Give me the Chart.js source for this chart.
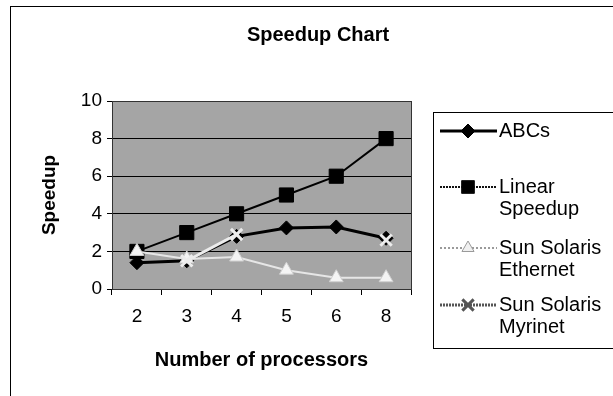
<!DOCTYPE html>
<html>
<head>
<meta charset="utf-8">
<script src="https://cdn.jsdelivr.net/npm/chart.js@4"></script>
<style>
  html, body { margin: 0; padding: 0; background: #fff; }
  #wrap { position: relative; width: 613px; height: 396px; overflow: hidden; }
  #chart { position: absolute; left: 0; top: 0; }
  #frame { position: absolute; left: 10px; top: 6px; width: 700px; height: 500px; border: 1px solid #000; }
  #title { position: absolute; left: 0; top: 23px; width: 636px; text-align: center;
           font: bold 20px "Liberation Sans", Arial, sans-serif; color: #000; }
</style>
</head>
<body>
<div id="wrap">
  <canvas id="chart" width="613" height="396"></canvas>
  <div id="frame"></div>
  <div id="title">Speedup Chart</div>
</div>
<script>
// values
const procs = ['2', '3', '4', '5', '6', '8'];
const abcs = [1.4, 1.5, 2.8, 3.25, 3.3, 2.7];
const linear = [2, 3, 4, 5, 6, 8];
const ethernet = [2.0, 1.6, 1.7, 1.0, 0.6, 0.6];
const myrinet = [null, 1.5, 2.9, null, null, 2.6];
const yTicks = [0, 2, 4, 6, 8, 10];
const names = [['ABCs'], ['Linear', 'Speedup'], ['Sun Solaris', 'Ethernet'], ['Sun Solaris', 'Myrinet']];

const FONT = '"Liberation Sans", Arial, sans-serif';

// grey plot area + frame
const plotBg = {
  id: 'plotBg',
  beforeDraw(chart) {
    const { ctx, chartArea: a } = chart;
    ctx.save();
    ctx.fillStyle = '#a5a5a5';
    ctx.fillRect(a.left, a.top, a.right - a.left, a.bottom - a.top);
    ctx.restore();
  },
  afterDatasetsDraw(chart) {
    const { ctx, chartArea: a } = chart;
    ctx.save();
    ctx.strokeStyle = '#333';
    ctx.lineWidth = 1;
    ctx.strokeRect(Math.round(a.left) + 0.5, Math.round(a.top) + 0.5,
                   Math.round(a.right - a.left), Math.round(a.bottom - a.top));
    ctx.restore();
  }
};

// boxed legend with two-line labels, like the Excel one
const boxLegend = {
  id: 'boxLegend',
  afterDraw(chart) {
    const ctx = chart.ctx;
    const rows = [131, 187, 248, 305];
    ctx.save();
    ctx.strokeStyle = '#000';
    ctx.lineWidth = 1;
    ctx.strokeRect(433.5, 112.5, 220, 236);
    chart.data.datasets.forEach((ds, i) => {
      const y = rows[i];
      ctx.strokeStyle = ds.legendColor;
      ctx.fillStyle = ds.legendFill;
      ctx.lineWidth = ds.borderWidth;
      ctx.setLineDash(ds.legendDash);
      ctx.beginPath();
      ctx.moveTo(440, y);
      ctx.lineTo(497, y);
      ctx.stroke();
      ctx.setLineDash([]);
      ctx.lineWidth = ds.pointBorderWidth;
      Chart.helpers.drawPoint(ctx, {
        pointStyle: ds.pointStyle,
        radius: ds.legendRadius,
        borderWidth: ds.pointBorderWidth,
        rotation: 0
      }, 468, y);
      ctx.fillStyle = '#000';
      ctx.font = '20px ' + FONT;
      ctx.textBaseline = 'middle';
      names[i].forEach((t, k) => ctx.fillText(t, 499, y + k * 22));
    });
    ctx.restore();
  }
};

new Chart(document.getElementById('chart'), {
  type: 'line',
  data: {
    labels: procs,
    datasets: [
      { label: 'ABCs', data: abcs, order: 2,
        borderColor: '#000', backgroundColor: '#000', borderWidth: 3,
        pointStyle: 'rectRot', pointRadius: 7, pointBorderWidth: 1,
        pointBackgroundColor: '#000', pointBorderColor: '#000',
        legendColor: '#000', legendFill: '#000', legendDash: [], legendRadius: 7 },
      { label: 'Linear Speedup', data: linear, order: 3,
        borderColor: '#000', backgroundColor: '#000', borderWidth: 2,
        pointStyle: 'rect', pointRadius: 10, pointBorderWidth: 1,
        pointBackgroundColor: '#000', pointBorderColor: '#000',
        legendColor: '#111', legendFill: '#000', legendDash: [2, 1], legendRadius: 9 },
      { label: 'Sun Solaris Ethernet', data: ethernet, order: 1,
        borderColor: '#e6e6e6', backgroundColor: '#f4f4f4', borderWidth: 2,
        pointStyle: 'triangle', pointRadius: 8, pointBorderWidth: 1,
        pointBackgroundColor: '#f4f4f4', pointBorderColor: '#d0d0d0',
        legendColor: '#9a9a9a', legendFill: '#f0f0f0', legendDash: [2, 2], legendRadius: 7 },
      { label: 'Sun Solaris Myrinet', data: myrinet, order: 0,
        borderColor: '#ececec', backgroundColor: '#ececec', borderWidth: 3,
        pointStyle: 'crossRot', pointRadius: 8, pointBorderWidth: 3,
        pointBackgroundColor: '#ececec', pointBorderColor: '#ececec',
        legendColor: '#555', legendFill: '#555', legendDash: [2, 1], legendRadius: 8 }
    ]
  },
  options: {
    responsive: false,
    animation: false,
    events: [],
    layout: { padding: { left: 38, right: 202, top: 101, bottom: 24 } },
    plugins: { legend: { display: false }, title: { display: false }, tooltip: { enabled: false } },
    scales: {
      x: {
        offset: true,
        afterFit: s => { s.height = 83; },
        grid: { offset: true, drawOnChartArea: false, drawTicks: true, tickLength: 6, color: '#000' },
        border: { display: true, color: '#000', width: 1 },
        ticks: { color: '#000', font: { family: FONT, size: 19 }, padding: 10, maxRotation: 0 },
        title: { display: true, text: 'Number of processors', color: '#000',
                 font: { family: FONT, size: 20, weight: 'bold' }, padding: { top: 0, bottom: 0 } }
      },
      y: {
        min: 0, max: 10,
        afterFit: s => { s.width = 74; },
        afterBuildTicks: s => { s.ticks = yTicks.map(v => ({ value: v })); },
        grid: { color: '#000', lineWidth: 1, drawTicks: true, tickLength: 5 },
        border: { display: true, color: '#000', width: 1 },
        ticks: { color: '#000', font: { family: FONT, size: 19 }, padding: 5 },
        title: { display: true, text: 'Speedup', color: '#000',
                 font: { family: FONT, size: 19, weight: 'bold' }, padding: { top: 0, bottom: 0 } }
      }
    }
  },
  plugins: [plotBg, boxLegend]
});
</script>
</body>
</html>
